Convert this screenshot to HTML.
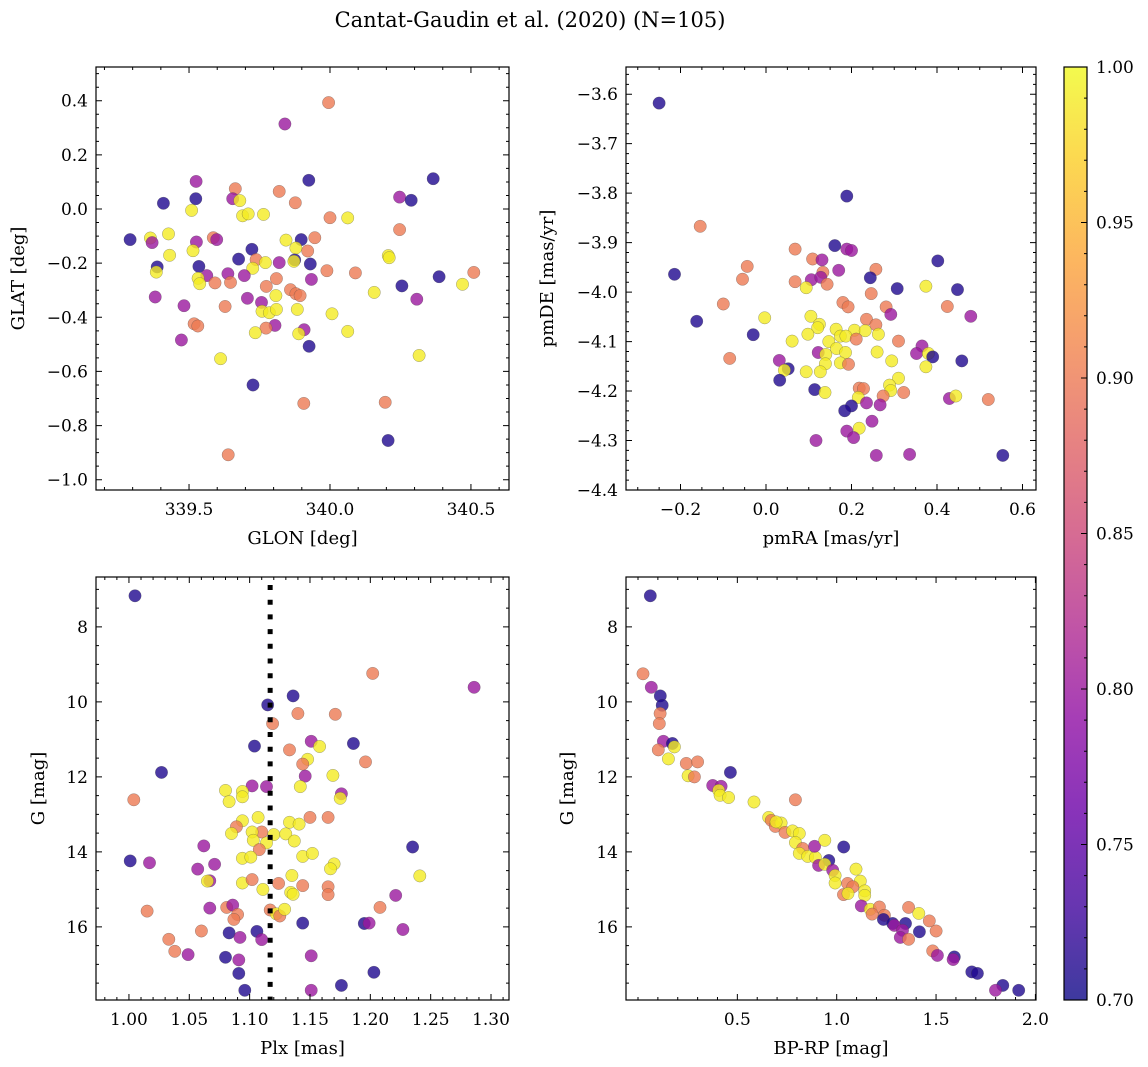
<!DOCTYPE html>
<html><head><meta charset="utf-8"><title>Cantat-Gaudin et al. (2020)</title>
<style>
html,body{margin:0;padding:0;background:#fff;}
svg{display:block;font-family:"DejaVu Serif","Liberation Serif",serif;}
</style></head>
<body>
<svg id="fig" width="1148" height="1067" viewBox="0 0 1148 1067" xmlns="http://www.w3.org/2000/svg">
<defs>
<linearGradient id="plasmaGrad" x1="0" y1="1" x2="0" y2="0">
<stop offset="0" stop-color="#0d0887"/><stop offset="0.1" stop-color="#41049d"/><stop offset="0.2" stop-color="#6a00a8"/><stop offset="0.3" stop-color="#8f0da4"/><stop offset="0.4" stop-color="#b12a90"/><stop offset="0.5" stop-color="#cc4778"/><stop offset="0.6" stop-color="#e16462"/><stop offset="0.7" stop-color="#f2844b"/><stop offset="0.8" stop-color="#fca636"/><stop offset="0.9" stop-color="#fcce25"/><stop offset="1" stop-color="#f0f921"/>
</linearGradient>
</defs>
<text x="530" y="27" font-size="21" text-anchor="middle">Cantat-Gaudin et al. (2020) (N=105)</text>
</svg>
<script>
// ---------- Panel 1 data: GLON / GLAT ----------
const p1Glon = [339.995,339.84,339.925,340.366,339.525,339.664,339.82,339.409,339.524,339.655,339.68,339.877,340.247,340.288,339.509,339.69,339.71,339.764,340.0,340.063,340.247,339.291,339.363,339.369,339.427,339.526,339.586,339.598,339.844,339.898,339.946,339.879,339.723,339.514,339.921,339.431,339.676,339.738,339.771,339.82,339.875,339.872,339.93,340.207,340.21,339.387,339.384,339.535,339.726,339.989,340.09,340.51,340.387,339.563,339.532,339.538,339.592,339.638,339.647,339.696,339.81,339.934,339.774,340.255,340.47,340.157,339.86,339.879,339.894,339.808,339.38,339.707,340.308,339.482,339.628,339.757,339.884,339.759,339.785,339.81,340.007,339.518,339.531,339.805,339.773,339.908,339.889,339.735,340.063,339.473,339.926,339.612,340.316,339.727,339.907,340.196,340.206,339.639];
const p1Glat = [0.393,0.314,0.106,0.112,0.102,0.075,0.065,0.021,0.038,0.038,0.031,0.023,0.044,0.032,-0.005,-0.025,-0.018,-0.02,-0.032,-0.033,-0.076,-0.113,-0.107,-0.124,-0.092,-0.122,-0.106,-0.113,-0.115,-0.113,-0.106,-0.144,-0.149,-0.154,-0.155,-0.171,-0.185,-0.187,-0.198,-0.198,-0.188,-0.193,-0.203,-0.172,-0.18,-0.214,-0.233,-0.212,-0.219,-0.228,-0.236,-0.234,-0.25,-0.246,-0.256,-0.276,-0.273,-0.239,-0.271,-0.246,-0.257,-0.26,-0.286,-0.284,-0.278,-0.308,-0.298,-0.313,-0.32,-0.32,-0.325,-0.33,-0.333,-0.357,-0.36,-0.345,-0.371,-0.378,-0.383,-0.371,-0.387,-0.424,-0.432,-0.43,-0.44,-0.446,-0.461,-0.457,-0.452,-0.484,-0.507,-0.553,-0.541,-0.65,-0.718,-0.714,-0.855,-0.908];
const p1Prob = [0.9,0.8,0.71,0.71,0.8,0.9,0.9,0.71,0.71,0.8,0.99,0.9,0.8,0.71,0.99,0.99,0.99,0.99,0.9,0.99,0.9,0.71,0.99,0.8,0.99,0.8,0.9,0.8,0.99,0.71,0.9,0.99,0.71,0.99,0.9,0.99,0.71,0.9,0.99,0.8,0.71,0.99,0.71,0.99,0.99,0.71,0.99,0.71,0.99,0.9,0.9,0.9,0.71,0.8,0.99,0.99,0.9,0.8,0.9,0.8,0.9,0.8,0.9,0.71,0.99,0.99,0.9,0.9,0.9,0.99,0.8,0.8,0.8,0.8,0.9,0.8,0.99,0.99,0.99,0.99,0.99,0.9,0.9,0.8,0.9,0.8,0.99,0.99,0.99,0.8,0.71,0.99,0.99,0.71,0.9,0.9,0.71,0.9];

// ---------- Panel 2 data: pmRA / pmDE ----------
const p2PmRA = [-0.25,0.189,-0.154,-0.214,0.161,0.189,0.2,0.068,0.109,0.131,-0.044,0.17,0.133,0.402,0.257,-0.055,0.106,0.128,0.143,0.068,0.094,0.244,0.307,0.374,0.448,0.246,-0.1,0.18,0.192,0.281,0.292,0.424,0.479,-0.162,-0.003,0.105,0.125,0.121,0.235,0.257,0.164,0.207,0.232,0.263,-0.03,0.098,0.061,0.147,0.174,0.187,0.211,0.31,0.122,0.14,0.165,0.186,0.26,0.365,0.352,0.38,0.39,-0.085,0.294,0.458,0.031,0.139,0.174,0.193,0.052,0.043,0.374,0.094,0.127,0.032,0.31,0.289,0.292,0.114,0.138,0.218,0.228,0.322,0.274,0.216,0.429,0.444,0.52,0.2,0.184,0.235,0.267,0.248,0.218,0.189,0.205,0.117,0.258,0.336,0.554];
const p2PmDE = [-3.618,-3.806,-3.867,-3.964,-3.906,-3.913,-3.916,-3.913,-3.933,-3.935,-3.948,-3.956,-3.96,-3.937,-3.954,-3.974,-3.975,-3.97,-3.984,-3.979,-3.991,-3.971,-3.993,-3.988,-3.995,-4.003,-4.024,-4.021,-4.03,-4.03,-4.045,-4.029,-4.049,-4.059,-4.052,-4.049,-4.065,-4.072,-4.055,-4.066,-4.075,-4.077,-4.078,-4.085,-4.086,-4.085,-4.099,-4.1,-4.089,-4.089,-4.095,-4.099,-4.122,-4.126,-4.114,-4.122,-4.121,-4.109,-4.124,-4.124,-4.131,-4.134,-4.139,-4.139,-4.138,-4.145,-4.143,-4.146,-4.155,-4.158,-4.151,-4.161,-4.161,-4.178,-4.174,-4.188,-4.199,-4.197,-4.203,-4.194,-4.195,-4.203,-4.21,-4.213,-4.215,-4.21,-4.217,-4.23,-4.24,-4.224,-4.228,-4.261,-4.275,-4.281,-4.294,-4.3,-4.33,-4.328,-4.33];
const p2Prob = [0.71,0.71,0.9,0.71,0.71,0.8,0.8,0.9,0.9,0.8,0.9,0.8,0.9,0.71,0.9,0.9,0.8,0.8,0.9,0.9,0.99,0.71,0.71,0.99,0.71,0.9,0.9,0.9,0.9,0.9,0.8,0.9,0.8,0.71,0.99,0.99,0.99,0.99,0.9,0.9,0.99,0.99,0.99,0.99,0.71,0.99,0.99,0.99,0.99,0.99,0.9,0.9,0.8,0.99,0.99,0.99,0.99,0.8,0.8,0.99,0.71,0.9,0.99,0.71,0.8,0.99,0.99,0.9,0.71,0.99,0.99,0.99,0.99,0.71,0.99,0.99,0.99,0.71,0.99,0.9,0.9,0.9,0.9,0.99,0.8,0.99,0.9,0.71,0.71,0.8,0.8,0.8,0.99,0.8,0.8,0.8,0.8,0.8,0.71];

// ---------- Panel 3 data: Plx / G ----------
const p3Plx = [1.005,1.202,1.286,1.136,1.115,1.14,1.171,1.119,1.104,1.186,1.151,1.158,1.133,1.196,1.148,1.144,1.027,1.169,1.146,1.142,1.102,1.114,1.08,1.094,1.094,1.083,1.176,1.175,1.004,1.15,1.165,1.107,1.094,1.133,1.141,1.089,1.11,1.102,1.085,1.12,1.13,1.103,1.114,1.137,1.108,1.062,1.235,1.144,1.152,1.094,1.101,1.001,1.017,1.071,1.057,1.17,1.167,1.241,1.135,1.067,1.065,1.094,1.102,1.124,1.144,1.165,1.165,1.111,1.134,1.136,1.221,1.015,1.067,1.081,1.086,1.09,1.087,1.117,1.122,1.125,1.129,1.208,1.144,1.195,1.199,1.227,1.06,1.083,1.106,1.092,1.11,1.033,1.038,1.049,1.08,1.091,1.151,1.091,1.203,1.096,1.151,1.176];
const p3G = [7.17,9.24,9.61,9.84,10.08,10.31,10.33,10.58,11.18,11.11,11.05,11.19,11.28,11.6,11.53,11.66,11.88,11.96,11.98,12.26,12.24,12.26,12.36,12.39,12.53,12.66,12.45,12.57,12.61,13.08,13.08,13.08,13.17,13.21,13.26,13.33,13.47,13.47,13.51,13.54,13.52,13.69,13.76,13.71,13.94,13.84,13.87,14.12,14.04,14.17,14.14,14.24,14.29,14.33,14.46,14.32,14.45,14.64,14.63,14.77,14.78,14.83,14.74,14.84,14.9,14.93,15.14,15.0,15.08,15.13,15.16,15.58,15.5,15.48,15.42,15.67,15.8,15.55,15.65,15.71,15.53,15.48,15.9,15.91,15.9,16.07,16.11,16.16,16.12,16.28,16.34,16.33,16.65,16.74,16.81,16.88,16.77,17.24,17.21,17.69,17.69,17.56];
const p3Prob = [0.71,0.9,0.8,0.71,0.71,0.9,0.9,0.9,0.71,0.71,0.8,0.99,0.9,0.9,0.99,0.9,0.71,0.99,0.8,0.99,0.8,0.8,0.99,0.99,0.99,0.99,0.8,0.99,0.9,0.9,0.9,0.99,0.99,0.99,0.99,0.9,0.9,0.99,0.99,0.99,0.99,0.99,0.99,0.99,0.9,0.8,0.71,0.99,0.99,0.99,0.99,0.71,0.8,0.8,0.8,0.99,0.99,0.99,0.99,0.8,0.99,0.99,0.9,0.9,0.9,0.9,0.9,0.99,0.99,0.99,0.8,0.9,0.8,0.9,0.8,0.9,0.9,0.9,0.99,0.9,0.99,0.9,0.71,0.71,0.8,0.8,0.9,0.71,0.71,0.8,0.8,0.9,0.9,0.8,0.71,0.8,0.8,0.71,0.71,0.71,0.8,0.71];
const p3PlxMean = 1.117;

// ---------- Panel 4 data: BP-RP / G ----------
const p4BpRp = [0.062,0.025,0.067,0.112,0.122,0.111,0.107,0.128,0.173,0.183,0.102,0.153,0.243,0.3,0.252,0.284,0.465,0.376,0.418,0.406,0.413,0.456,0.584,0.792,0.658,0.671,0.691,0.72,0.695,0.74,0.778,0.812,0.792,0.829,0.812,0.854,0.893,0.889,0.94,1.035,0.96,0.909,0.94,0.98,0.992,1.097,0.992,1.055,1.119,1.081,1.141,1.034,1.057,1.141,1.124,1.169,1.215,1.178,1.24,1.235,1.282,1.346,1.29,1.331,1.362,1.413,1.466,1.5,1.416,1.32,1.362,1.483,1.507,1.592,1.586,1.68,1.708,1.836,1.799,1.916];
const p4G = [7.17,9.25,9.61,9.84,10.09,10.31,10.58,11.05,11.11,11.2,11.28,11.52,11.64,11.6,11.97,12.0,11.88,12.23,12.25,12.36,12.49,12.55,12.67,12.61,13.08,13.16,13.32,13.23,13.2,13.48,13.44,13.51,13.75,13.91,14.04,14.12,14.15,13.85,13.69,13.87,14.23,14.36,14.33,14.49,14.63,14.46,14.83,14.84,14.78,14.93,15.04,15.14,15.11,15.16,15.44,15.53,15.47,15.66,15.69,15.8,15.91,15.91,15.96,16.09,15.48,15.64,15.84,16.11,16.13,16.28,16.33,16.64,16.76,16.8,16.87,17.2,17.24,17.56,17.69,17.69];
const p4Prob = [0.71,0.9,0.8,0.71,0.71,0.9,0.9,0.8,0.71,0.99,0.9,0.99,0.9,0.9,0.99,0.9,0.71,0.8,0.8,0.99,0.99,0.99,0.99,0.9,0.99,0.9,0.9,0.99,0.99,0.9,0.99,0.99,0.99,0.9,0.99,0.99,0.99,0.8,0.99,0.71,0.71,0.8,0.99,0.8,0.99,0.99,0.99,0.9,0.99,0.9,0.99,0.9,0.99,0.99,0.8,0.99,0.9,0.9,0.9,0.71,0.71,0.71,0.8,0.8,0.9,0.99,0.9,0.9,0.71,0.8,0.9,0.9,0.8,0.71,0.8,0.71,0.71,0.71,0.8,0.71];

// ---------- Axis tick labels ----------
const p1XTicks = [339.5, 340.0, 340.5];
const p1YTicks = [-1.0,-0.8,-0.6,-0.4,-0.2,0.0,0.2,0.4];
const p2XTicks = [-0.2,0.0,0.2,0.4,0.6];
const p2YTicks = [-4.4,-4.3,-4.2,-4.1,-4.0,-3.9,-3.8,-3.7,-3.6];
const p3XTicks = [1.00,1.05,1.10,1.15,1.20,1.25,1.30];
const gTicks = [8,10,12,14,16];
const p4XTicks = [0.5,1.0,1.5,2.0];
const cbTicks = [0.70,0.75,0.80,0.85,0.90,0.95,1.00];
const probMin = 0.70, probMax = 1.00;

const NS = "http://www.w3.org/2000/svg";
const svg = document.getElementById('fig');
const TICK_FS = 17, LABEL_FS = 18;
const plasma = ["#0d0887","#41049d","#6a00a8","#8f0da4","#b12a90","#cc4778","#e16462","#f2844b","#fca636","#fcce25","#f0f921"];
function hex(h){return [parseInt(h.substr(1,2),16),parseInt(h.substr(3,2),16),parseInt(h.substr(5,2),16)];}
function cmap(p){
  let t=(p-probMin)/(probMax-probMin); t=Math.max(0,Math.min(1,t));
  const f=t*10, i=Math.min(9,Math.floor(f)), u=f-i;
  const a=hex(plasma[i]), b=hex(plasma[i+1]);
  return 'rgb('+a.map((v,k)=>Math.round(v+(b[k]-v)*u)).join(',')+')';
}
function mk(tag, attrs, parent){
  const e=document.createElementNS(NS,tag);
  for(const k in attrs) e.setAttribute(k, attrs[k]);
  (parent||svg).appendChild(e); return e;
}
function fmt(v,d){ const s=Math.abs(v).toFixed(d); return (v<-1e-9?'\u2212':'')+s; }

function panel(c){
  const g=mk('g',{});
  
  
  const sx=v=>c.x0+(v-c.xmin)/(c.xmax-c.xmin)*(c.x1-c.x0);
  const sy=v=>c.y0+(c.ytop-v)/(c.ytop-c.ybot)*(c.y1-c.y0);
  const pg=mk('g',{},g);
  
  
  for(let i=0;i<c.xs.length;i++){
    const cx=sx(c.xs[i]), cy=sy(c.ys[i]);
    if(cx<c.x0-6||cx>c.x1+6||cy<c.y0-6||cy>c.y1+6) continue;
    const pt=mk('circle',{cx:cx.toFixed(1),cy:cy.toFixed(1),r:6.2,fill:cmap(c.ps[i]),'fill-opacity':0.8,stroke:'#444','stroke-opacity':0.5,'stroke-width':0.5},pg);
    
    
  }
  if(c.vline!==undefined){
    const vl=mk('line',{x1:sx(c.vline),x2:sx(c.vline),y1:c.y0+8,y2:c.y1,stroke:'#000','stroke-width':5,'stroke-dasharray':'5 9.7'},g);
    
    
  }
  const fr=mk('rect',{x:c.x0,y:c.y0,width:c.x1-c.x0,height:c.y1-c.y0,fill:'none',stroke:'#000','stroke-width':1.2},g);
  
  
  let d='';
  const xlo=Math.min(c.xmin,c.xmax), xhi=Math.max(c.xmin,c.xmax);
  for(let v=Math.ceil(xlo/c.xminor)*c.xminor; v<=xhi; v+=c.xminor){
    const x=sx(v); d+=`M${x},${c.y1}v-3M${x},${c.y0}v3`;
  }
  for(const v of c.xt){ const x=sx(v); d+=`M${x},${c.y1}v-6M${x},${c.y0}v6`; }
  const ylo=Math.min(c.ytop,c.ybot), yhi=Math.max(c.ytop,c.ybot);
  for(let v=Math.ceil(ylo/c.yminor)*c.yminor; v<=yhi; v+=c.yminor){
    const y=sy(v); d+=`M${c.x0},${y}h3M${c.x1},${y}h-3`;
  }
  for(const v of c.yt){ const y=sy(v); d+=`M${c.x0},${y}h6M${c.x1},${y}h-6`; }
  const tk=mk('path',{d:d,stroke:'#000','stroke-width':1,fill:'none'},g);
  
  
  for(const v of c.xt){
    const t=mk('text',{x:sx(v),y:c.y1+25,'font-size':TICK_FS,'text-anchor':'middle'},g);
    t.textContent=fmt(v,c.xd);
    
    
  }
  for(const v of c.yt){
    const t=mk('text',{x:c.x0-8,y:sy(v)+6,'font-size':TICK_FS,'text-anchor':'end'},g);
    t.textContent=fmt(v,c.yd);
    
    
  }
  const xl=mk('text',{x:(c.x0+c.x1)/2,y:c.y1+54,'font-size':LABEL_FS,'text-anchor':'middle'},g);
  xl.textContent=c.xlabel;
  
  
  const yx=c.ylx, yy=(c.y0+c.y1)/2;
  const yl=mk('text',{x:yx,y:yy,'font-size':LABEL_FS,'text-anchor':'middle',transform:`rotate(-90 ${yx} ${yy})`},g);
  yl.textContent=c.ylabel;
  
  
}

panel({name:'glon-glat-panel',x0:96,y0:67,x1:509,y1:490,xmin:339.17,xmax:340.635,ytop:0.5246,ybot:-1.038,
  xs:p1Glon,ys:p1Glat,ps:p1Prob,xt:p1XTicks,yt:p1YTicks,xminor:0.1,yminor:0.05,xd:1,yd:1,
  xlabel:'GLON [deg]',ylabel:'GLAT [deg]',ylx:24});
panel({name:'proper-motion-panel',x0:626,y0:67,x1:1036,y1:490,xmin:-0.3275,xmax:0.6316,ytop:-3.545,ybot:-4.4,
  xs:p2PmRA,ys:p2PmDE,ps:p2Prob,xt:p2XTicks,yt:p2YTicks,xminor:0.05,yminor:0.02,xd:1,yd:1,
  xlabel:'pmRA [mas/yr]',ylabel:'pmDE [mas/yr]',ylx:553});
panel({name:'parallax-mag-panel',x0:96,y0:577,x1:509,y1:1000,xmin:0.9727,xmax:1.3149,ytop:6.67,ybot:17.95,
  xs:p3Plx,ys:p3G,ps:p3Prob,xt:p3XTicks,yt:gTicks,xminor:0.01,yminor:0.5,xd:2,yd:0,vline:p3PlxMean,
  xlabel:'Plx [mas]',ylabel:'G [mag]',ylx:44});
panel({name:'color-mag-panel',x0:626,y0:577,x1:1036,y1:1000,xmin:-0.0604,xmax:2.003,ytop:6.67,ybot:17.95,
  xs:p4BpRp,ys:p4G,ps:p4Prob,xt:p4XTicks,yt:gTicks,xminor:0.1,yminor:0.5,xd:1,yd:0,
  xlabel:'BP-RP [mag]',ylabel:'G [mag]',ylx:573});

// ---------- Colorbar ----------
(function(){
  const cx0=1064,cx1=1087,cy0=67,cy1=1000;
  const cg=mk('g',{});
  
  
  const r=mk('rect',{x:cx0,y:cy0,width:cx1-cx0,height:cy1-cy0,fill:'url(#plasmaGrad)','fill-opacity':0.8,stroke:'#000','stroke-width':1.2},cg);
  
  
  const cyv=v=>cy1-(v-probMin)/(probMax-probMin)*(cy1-cy0);
  let d='';
  for(let v=probMin; v<=probMax+1e-9; v+=0.01){ d+=`M${cx1},${cyv(v)}h-3`; }
  for(const v of cbTicks){ d+=`M${cx1},${cyv(v)}h-6`; }
  const tk=mk('path',{d:d,stroke:'#000','stroke-width':1},cg);
  
  
  for(const v of cbTicks){
    const t=mk('text',{x:cx1+9,y:cyv(v)+6,'font-size':TICK_FS},cg);
    t.textContent=v.toFixed(2);
    
    
  }
})();
</script>
</body></html>
